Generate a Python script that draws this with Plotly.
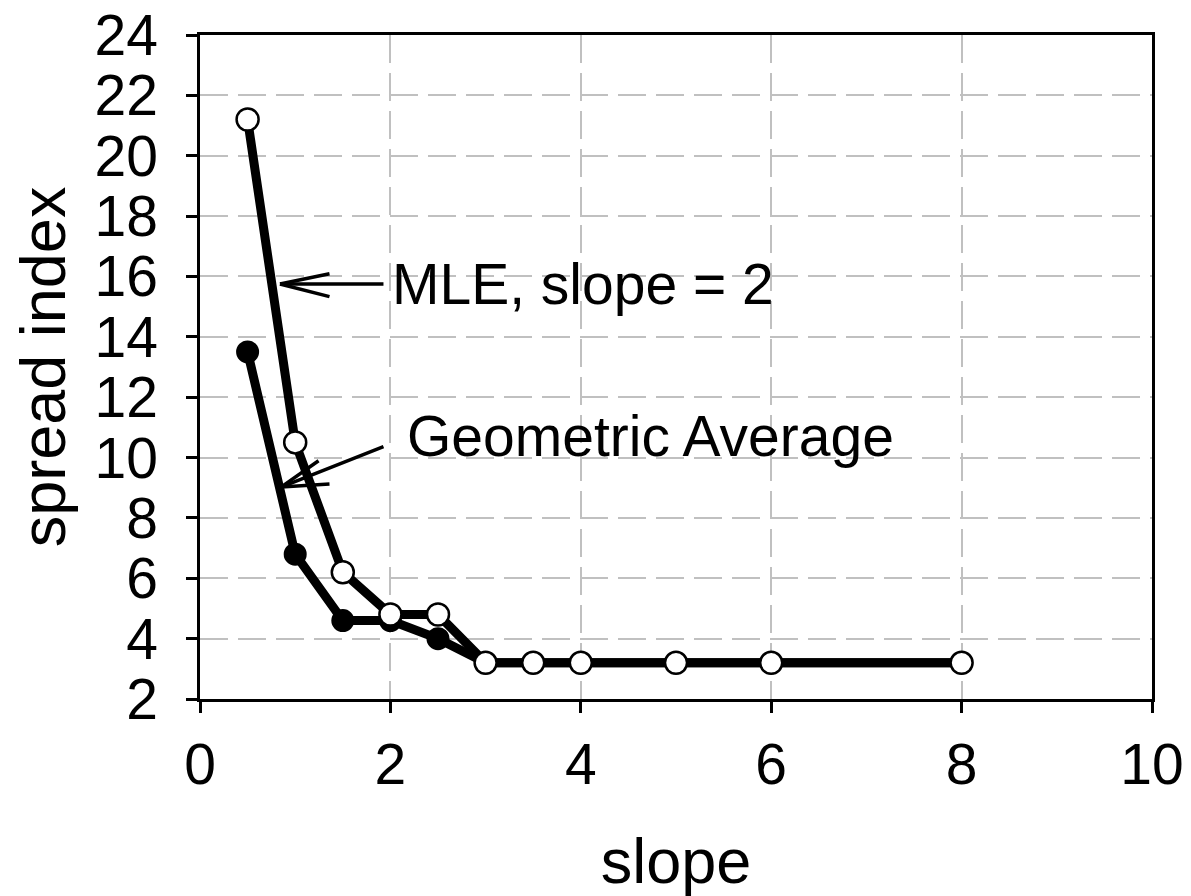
import plotly.graph_objects as go

slope = [0.5, 1, 1.5, 2, 2.5, 3, 3.5, 4, 5, 6, 8]
geo_avg = [13.5, 6.8, 4.6, 4.6, 4.0, 3.2, 3.2, 3.2, 3.2, 3.2, 3.2]
mle = [21.2, 10.5, 6.2, 4.8, 4.8, 3.2, 3.2, 3.2, 3.2, 3.2, 3.2]

x_ticks = [0, 2, 4, 6, 8, 10]
y_ticks = [2, 4, 6, 8, 10, 12, 14, 16, 18, 20, 22, 24]

FONT = "Arial, Liberation Sans, sans-serif"

fig = go.Figure()
fig.add_trace(go.Scatter(
    x=slope, y=geo_avg, mode="lines+markers", name="Geometric Average",
    line=dict(color="black", width=9),
    marker=dict(size=21, color="black", line=dict(color="black", width=2)),
))
fig.add_trace(go.Scatter(
    x=slope, y=mle, mode="lines+markers", name="MLE, slope = 2",
    line=dict(color="black", width=9),
    marker=dict(size=22, color="white", line=dict(color="black", width=2.5)),
))

axis_common = dict(
    showline=True, linecolor="black", linewidth=2.5, mirror=True,
    ticks="outside", ticklen=11, tickwidth=2.5, tickcolor="black",
    showgrid=True, gridcolor="#c0c0c0", gridwidth=2, griddash="28px,10px",
    zeroline=False, automargin=False, ticklabeloverflow="allow",
    tickfont=dict(family=FONT, size=57, color="black"),
)

fig.update_xaxes(range=[0, 10], tickvals=x_ticks, ticklabelstandoff=3,
                 title=dict(text="slope", font=dict(family=FONT, size=63, color="black"), standoff=45),
                 **axis_common)
fig.update_yaxes(range=[2, 24], tickvals=y_ticks, ticklabelstandoff=17,
                 title=dict(text="spread index", font=dict(family=FONT, size=63, color="black"), standoff=36),
                 **axis_common)

# arrows (line + open V head)
def seg(x0, y0, x1, y1):
    fig.add_annotation(x=x1, y=y1, ax=x0, ay=y0, xref="x", yref="y", axref="x", ayref="y",
                       text="", showarrow=True, arrowhead=0, arrowwidth=3.5, arrowcolor="black")

# MLE arrow
seg(1.943, 15.75, 0.840, 15.75)
seg(1.376, 16.10, 0.840, 15.75)
seg(1.376, 15.32, 0.840, 15.75)
# Geometric arrow
seg(1.943, 10.38, 0.851, 9.02)
seg(1.261, 9.93, 0.851, 9.02)
seg(1.376, 9.13, 0.851, 9.02)

fig.add_annotation(x=1.996, y=15.75, xref="x", yref="y", text="MLE, slope = 2",
                   showarrow=False, xanchor="left", yanchor="middle",
                   font=dict(family=FONT, size=57, color="black"))
fig.add_annotation(x=2.15, y=10.72, xref="x", yref="y", text="Geometric Average",
                   showarrow=False, xanchor="left", yanchor="middle",
                   font=dict(family=FONT, size=57, color="black"))

fig.update_layout(
    width=1183, height=888,
    margin=dict(l=192, r=39, t=27, b=197),
    paper_bgcolor="white", plot_bgcolor="white",
    showlegend=False,
)

fig.write_html("out.html")
